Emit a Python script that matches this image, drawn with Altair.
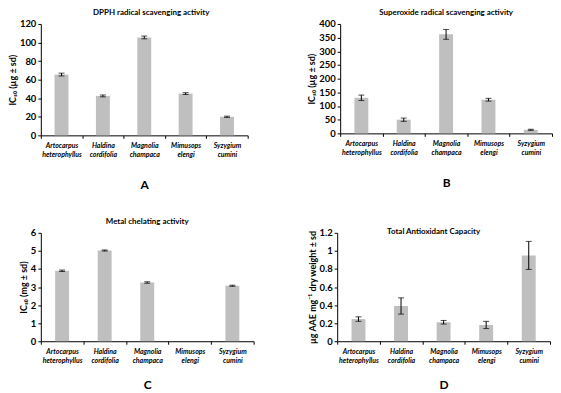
import altair as alt
import pandas as pd

species = ["Artocarpus heterophyllus", "Haldina cordifolia", "Magnolia champaca",
           "Mimusops elengi", "Syzygium cumini"]

dpph_mean = [65.5, 42.5, 105.5, 45.0, 20.0]
dpph_sd = [1.5, 1.0, 1.5, 1.0, 0.7]

sod_mean = [130, 50, 362, 123, 13]
sod_sd = [10, 6, 18, 5, 2]

metal_mean = [3.9, 5.02, 3.25, None, 3.07]
metal_sd = [0.04, 0.03, 0.04, None, 0.03]

tac_mean = [0.245, 0.39, 0.21, 0.18, 0.95]
tac_sd = [0.025, 0.09, 0.02, 0.04, 0.155]

# y axis tick labels
dpph_ticks = [0, 20, 40, 60, 80, 100, 120]
sod_ticks = [0, 50, 100, 150, 200, 250, 300, 350, 400]
metal_ticks = [0, 1, 2, 3, 4, 5, 6]
tac_ticks = [0, 0.2, 0.4, 0.6, 0.8, 1, 1.2]

FONT = "Lato"
BAR = "#bfbfbf"


def panel(mean, sd, title, ytitle, yticks, letter, width, height,
          title_offset=2, title_dx=0, letter_pad=19):
    df = pd.DataFrame({"species": species, "mean": mean, "sd": sd}).dropna()
    df["lo"] = df["mean"] - df["sd"]
    df["hi"] = df["mean"] + df["sd"]

    xs = alt.X("species:N", sort=species,
               scale=alt.Scale(domain=species, paddingInner=0, paddingOuter=0),
               axis=alt.Axis(title=letter, labelAngle=0,
                             labelExpr="split(datum.label, ' ')",
                             tickBand="extent", tickSize=3,
                             labelFontStyle="italic", labelFontWeight="bold",
                             labelFontSize=7, labelLineHeight=9,
                             labelPadding=3,
                             titleFontSize=12, titleFontWeight="bold",
                             titlePadding=letter_pad))
    yaxis = alt.Axis(title=ytitle, values=yticks, labelOverlap=False,
                     labelExpr="'' + datum.value",
                     tickSize=3, labelFontSize=9.5, labelFontWeight="bold",
                     labelPadding=2, titleFontSize=9,
                     titleFontWeight="bold", titlePadding=2)
    yscale = alt.Scale(domain=[yticks[0], yticks[-1]], nice=False)
    base = alt.Chart(df)
    bars = base.mark_bar(color=BAR, size=14).encode(
        x=xs, y=alt.Y("mean:Q", scale=yscale, axis=yaxis))
    rule = base.mark_rule(color="black", strokeWidth=1).encode(
        x=alt.X("species:N", sort=species),
        y=alt.Y("lo:Q", scale=yscale, axis=yaxis), y2="hi:Q")
    cap_lo = base.mark_tick(color="black", size=6, thickness=1).encode(
        x=alt.X("species:N", sort=species),
        y=alt.Y("lo:Q", scale=yscale, axis=yaxis))
    cap_hi = base.mark_tick(color="black", size=6, thickness=1).encode(
        x=alt.X("species:N", sort=species),
        y=alt.Y("hi:Q", scale=yscale, axis=yaxis))
    return alt.layer(bars, rule, cap_lo, cap_hi).properties(
        width=width, height=height,
        title=alt.TitleParams(title, fontSize=8, fontWeight="bold", font=FONT,
                              frame="group", anchor="middle",
                              offset=title_offset, dx=title_dx))


a = panel(dpph_mean, dpph_sd, "DPPH radical scavenging activity", "IC₅₀ (µg ± sd)",
          dpph_ticks, "A", 208, 112, title_dx=7, letter_pad=22)
b = panel(sod_mean, sod_sd, "Superoxide radical scavenging activity", "IC₅₀ (µg ± sd)",
          sod_ticks, "B", 213, 110, letter_pad=22)
c = panel(metal_mean, metal_sd, "Metal chelating activity", "IC₅₀ (mg ± sd)",
          metal_ticks, "C", 214, 109, letter_pad=17)
d = panel(tac_mean, tac_sd, "Total Antioxidant Capacity", "µg AAE mg⁻¹ dry weight ± sd",
          tac_ticks, "D", 214, 109, title_offset=-8, title_dx=-10, letter_pad=17)

chart = alt.vconcat(
    alt.hconcat(a, b, spacing=59),
    alt.hconcat(c, d, spacing=53),
    spacing=28,
).properties(padding={"left": 0, "top": 0, "right": 0, "bottom": 0}).configure(
    font=FONT
).configure_view(stroke=None).configure_axis(
    domainColor="black", tickColor="black", labelColor="black", titleColor="black",
    grid=False, labelFont=FONT, titleFont=FONT
)

chart.save("out.html", embed_options={"renderer": "svg", "actions": False})
